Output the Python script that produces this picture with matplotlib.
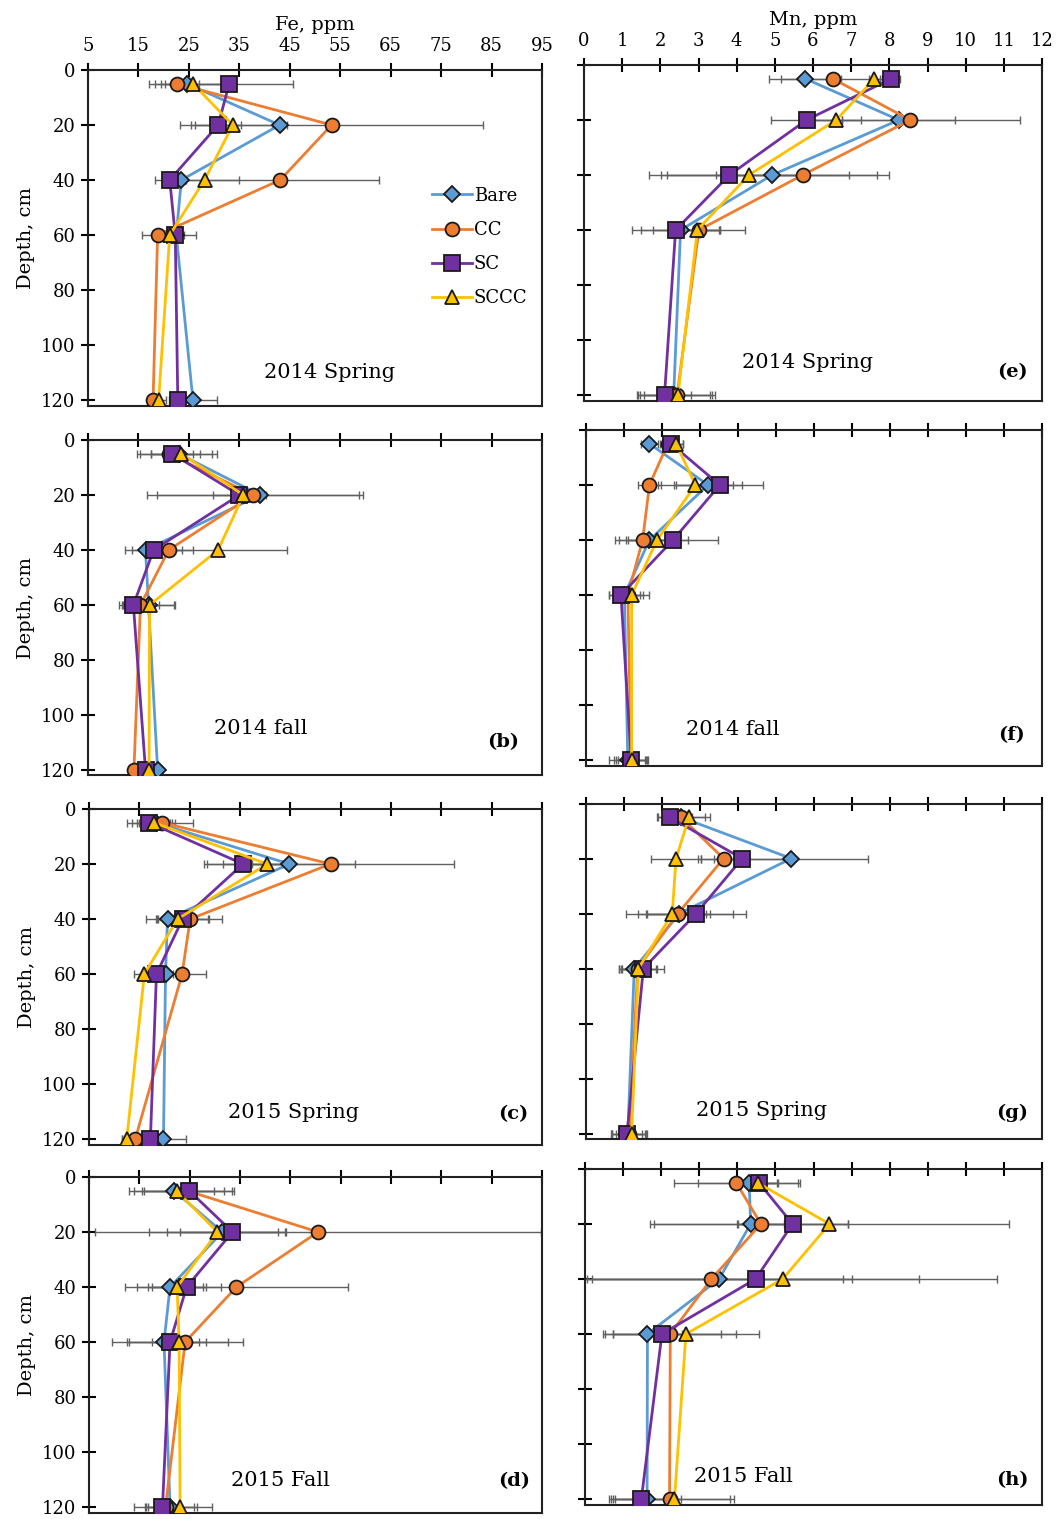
import matplotlib
matplotlib.use("Agg")
import matplotlib.pyplot as plt

plt.rcParams['font.family'] = ['DejaVu Serif']

depths = [5, 20, 40, 60, 120]
series = ["Bare", "CC", "SC", "SCCC"]

# ---- Fe, ppm ----
fe_2014_spring = {
    "Bare": [24.6, 43.0, 23.5, 22.5, 25.8],
    "CC":   [22.7, 53.3, 43.1, 18.8, 17.9],
    "SC":   [33.0, 30.8, 21.2, 22.3, 22.8],
    "SCCC": [25.8, 33.7, 28.1, 21.2, 19.0],
}
fe_2014_spring_err = {
    "Bare": [7.5, 1.5, 1.0, 1.5, 4.8],
    "CC":   [4.4, 30.0, 19.6, 3.1, 1.0],
    "SC":   [12.7, 4.5, 3.0, 4.1, 1.0],
    "SCCC": [6.3, 8.3, 6.9, 1.5, 1.5],
}
fe_2014_fall = {
    "Bare": [23.0, 39.1, 16.4, 17.0, 18.8],
    "CC":   [21.0, 37.7, 21.0, 15.4, 14.1],
    "SC":   [21.7, 35.0, 18.0, 14.0, 16.4],
    "SCCC": [23.5, 35.8, 30.8, 17.2, 17.1],
}
fe_2014_fall_err = {
    "Bare": [7.6, 20.5, 2.6, 5.0, 0.9],
    "CC":   [6.3, 21.0, 4.9, 3.6, 1.0],
    "SC":   [4.2, 5.2, 5.6, 2.9, 1.0],
    "SCCC": [6.1, 1.0, 13.6, 5.1, 1.0],
}
fe_2015_spring = {
    "Bare": [18.3, 44.8, 20.6, 20.2, 19.8],
    "CC":   [19.6, 53.0, 25.1, 23.5, 14.2],
    "SC":   [17.0, 35.6, 23.6, 18.4, 17.2],
    "SCCC": [18.0, 40.4, 22.6, 16.0, 12.5],
}
fe_2015_spring_err = {
    "Bare": [3.7, 13.1, 2.3, 1.5, 4.5],
    "CC":   [6.0, 24.6, 6.4, 4.8, 2.6],
    "SC":   [4.5, 7.7, 5.0, 1.5, 1.0],
    "SCCC": [3.0, 3.0, 6.3, 2.0, 1.0],
}
fe_2015_fall = {
    "Bare": [21.9, 31.5, 21.1, 19.9, 21.1],
    "CC":   [24.5, 50.5, 34.3, 24.1, 20.2],
    "SC":   [24.9, 33.5, 24.4, 21.1, 19.6],
    "SCCC": [22.4, 30.5, 22.5, 22.9, 23.1],
}
fe_2015_fall_err = {
    "Bare": [7.9, 11.1, 6.5, 7.0, 4.8],
    "CC":   [9.0, 44.4, 22.2, 11.5, 6.2],
    "SC":   [8.9, 10.4, 6.8, 11.5, 3.5],
    "SCCC": [9.4, 13.6, 5.7, 5.3, 6.4],
}

# ---- Mn, ppm ----
mn_2014_spring = {
    "Bare": [5.80, 8.25, 4.93, 2.53, 2.35],
    "CC":   [6.52, 8.55, 5.73, 3.01, 2.44],
    "SC":   [8.05, 5.83, 3.81, 2.40, 2.11],
    "SCCC": [7.61, 6.61, 4.32, 2.97, 2.46],
}
mn_2014_spring_err = {
    "Bare": [0.94, 1.48, 2.75, 1.03, 0.95],
    "CC":   [1.35, 2.88, 2.27, 1.20, 0.98],
    "SC":   [0.24, 0.92, 1.80, 1.13, 0.70],
    "SCCC": [0.15, 0.66, 2.63, 0.60, 0.90],
}
mn_2014_fall = {
    "Bare": [1.67, 3.21, 1.67, 1.01, 1.10],
    "CC":   [2.15, 1.67, 1.49, 1.10, 1.19],
    "SC":   [2.24, 3.52, 2.29, 0.92, 1.19],
    "SCCC": [2.37, 2.88, 1.87, 1.20, 1.20],
}
mn_2014_fall_err = {
    "Bare": [0.22, 0.90, 0.80, 0.40, 0.50],
    "CC":   [0.10, 0.31, 0.74, 0.40, 0.45],
    "SC":   [0.30, 1.14, 1.18, 0.32, 0.40],
    "SCCC": [0.18, 0.99, 0.82, 0.45, 0.35],
}
mn_2015_spring = {
    "Bare": [2.50, 5.40, 2.46, 1.27, 1.10],
    "CC":   [2.50, 3.62, 2.42, 1.36, 1.14],
    "SC":   [2.20, 4.11, 2.90, 1.51, 1.08],
    "SCCC": [2.71, 2.37, 2.27, 1.38, 1.20],
}
mn_2015_spring_err = {
    "Bare": [0.62, 2.03, 1.41, 0.40, 0.45],
    "CC":   [0.30, 0.68, 0.83, 0.50, 0.45],
    "SC":   [0.30, 1.08, 1.30, 0.55, 0.40],
    "SCCC": [0.54, 0.66, 0.89, 0.45, 0.40],
}
mn_2015_fall = {
    "Bare": [4.31, 4.35, 3.52, 1.64, 1.63],
    "CC":   [3.97, 4.62, 3.32, 2.24, 2.22],
    "SC":   [4.57, 5.45, 4.48, 2.02, 1.48],
    "SCCC": [4.53, 6.42, 5.19, 2.65, 2.35],
}
mn_2015_fall_err = {
    "Bare": [1.34, 2.55, 3.48, 0.90, 0.90],
    "CC":   [1.62, 0.60, 3.45, 1.72, 1.60],
    "SC":   [0.50, 1.45, 4.30, 1.54, 0.80],
    "SCCC": [0.50, 4.72, 5.64, 1.92, 1.55],
}

fe_ticks = [5, 15, 25, 35, 45, 55, 65, 75, 85, 95]
mn_ticks = list(range(0, 13))
depth_ticks = [0, 20, 40, 60, 80, 100, 120]

colors = {"Bare": "#5B9BD5", "CC": "#ED7D31", "SC": "#7030A0", "SCCC": "#FFC000"}
markers = {"Bare": "D", "CC": "o", "SC": "s", "SCCC": "^"}
msizes = {"Bare": 8, "CC": 10, "SC": 11, "SCCC": 10}

W, H = 1058, 1519
fig = plt.figure(figsize=(W / 100, H / 100), dpi=100)


def rect(x0, x1, ytop, ybot):
    return [x0 / W, 1 - ybot / H, (x1 - x0) / W, (ybot - ytop) / H]


panels = [
    (fe_2014_spring, fe_2014_spring_err, (5, 95), fe_ticks, (88, 542, 70, 405.5),
     "2014 Spring", None, (330, 373), None, True, True),
    (mn_2014_spring, mn_2014_spring_err, (0, 12), mn_ticks, (584, 1042, 65, 400.5),
     "2014 Spring", "(e)", (807, 362), (1012, 372), False, True),
    (fe_2014_fall, fe_2014_fall_err, (5, 95), fe_ticks, (88, 542, 440, 775.5),
     "2014 fall", "(b)", (261, 729), (503, 742), True, False),
    (mn_2014_fall, mn_2014_fall_err, (0, 12), mn_ticks, (586, 1042, 430, 765.5),
     "2014 fall", "(f)", (733, 730), (1012, 735), False, False),
    (fe_2015_spring, fe_2015_spring_err, (5, 95), fe_ticks, (89, 542, 809, 1144.5),
     "2015 Spring", "(c)", (294, 1113), (513, 1114), True, False),
    (mn_2015_spring, mn_2015_spring_err, (0, 12), mn_ticks, (586, 1042, 803.5, 1139),
     "2015 Spring", "(g)", (761, 1111), (1012, 1113), False, False),
    (fe_2015_fall, fe_2015_fall_err, (5, 95), fe_ticks, (89, 542, 1177, 1512.5),
     "2015 Fall", "(d)", (280, 1480), (514, 1481), True, False),
    (mn_2015_fall, mn_2015_fall_err, (0, 12), mn_ticks, (585, 1042, 1169, 1504.5),
     "2015 Fall", "(h)", (743, 1477), (1012, 1480), False, False),
]

ax_first = None
for (data, err, xlim, xticks, box, label, letter, tpos, lpos, left, top) in panels:
    ax = fig.add_axes(rect(*box))
    for s in series:
        ax.errorbar(data[s], depths, xerr=err[s], fmt='none', ecolor='#606060',
                    elinewidth=1.0, capsize=3, capthick=1.0, zorder=2)
    for i, s in enumerate(series):
        ax.plot(data[s], depths, color=colors[s], lw=2.0, marker=markers[s],
                markersize=msizes[s], markerfacecolor=colors[s],
                markeredgecolor='#1a1a1a', markeredgewidth=1.3, zorder=3 + i, label=s)
    ax.set_xlim(*xlim)
    ax.set_ylim(122, 0)
    ax.set_xticks(xticks)
    ax.set_yticks(depth_ticks)
    ax.xaxis.tick_top()
    ax.tick_params(axis='x', which='both', direction='inout', length=10, width=1.5,
                   top=True, bottom=False, labeltop=top, labelbottom=False,
                   labelsize=13, pad=6)
    ax.tick_params(axis='y', direction='inout', length=10, width=1.5,
                   left=True, right=False, labelleft=left, labelsize=13, pad=4)
    for sp in ax.spines.values():
        sp.set_linewidth(1.5)
        sp.set_color('#222222')
    if left:
        ax.set_ylabel("Depth, cm", fontsize=14, labelpad=4)
    if top:
        ax.xaxis.set_label_position('top')
        ax.set_xlabel("Fe, ppm" if left else "Mn, ppm", fontsize=14, labelpad=5)
    fig.text(tpos[0] / W, 1 - tpos[1] / H, label, ha='center', va='center', fontsize=15)
    if letter:
        fig.text(lpos[0] / W, 1 - lpos[1] / H, letter, ha='center', va='center',
                 fontsize=14, fontweight='bold')
    if ax_first is None:
        ax_first = ax

ax_first.legend(loc='center left', bbox_to_anchor=((425 - 88) / 454, 1 - (247 - 70) / 335.5),
                frameon=False, fontsize=13, handlelength=2.2, handletextpad=0.1,
                labelspacing=0.9, borderaxespad=0)

fig.savefig("out.png", dpi=100)
